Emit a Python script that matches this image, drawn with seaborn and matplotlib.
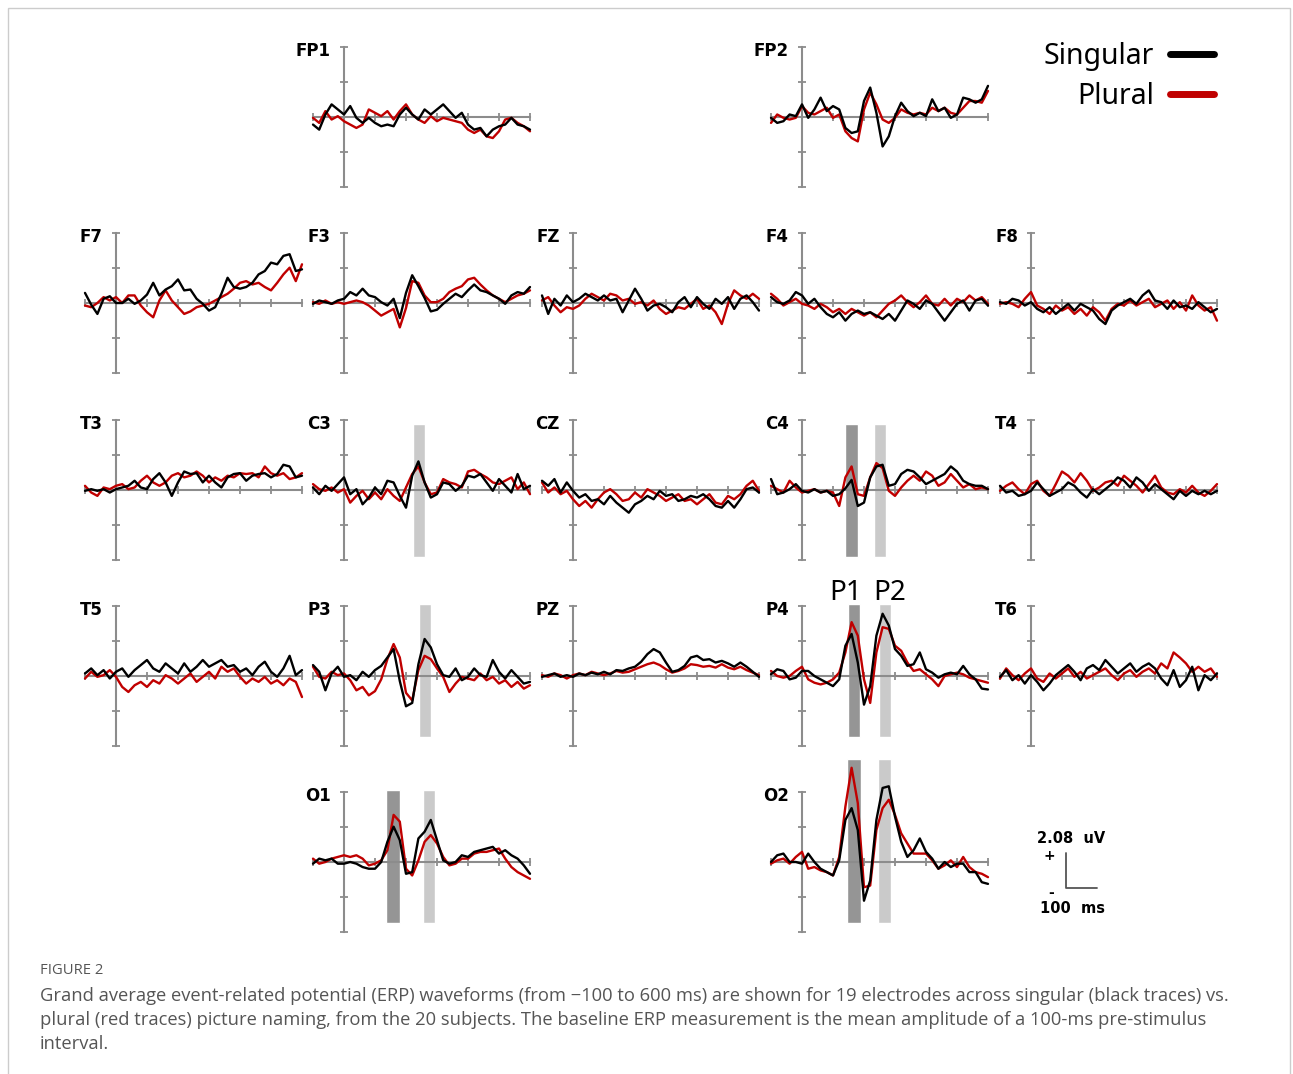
import matplotlib
matplotlib.use('Agg')
import matplotlib.pyplot as plt
import pandas as pd
import seaborn as sns
from matplotlib.patches import Rectangle

# time axis (ms) and amplitudes (uV), 20 ms steps
TIMES = list(range(-100, 601, 20))

FP1_SING = [-0.45,-0.75,0.15,0.75,0.45,0.15,0.65,-0.05,-0.35,-0.05,-0.35,-0.55,-0.45,-0.55,0.15,0.55,0.15,-0.15,0.45,0.15,0.45,0.75,0.35,-0.05,0.25,-0.45,-0.75,-0.65,-1.15,-0.75,-0.55,-0.45,-0.05,-0.45,-0.55,-0.75]
FP1_PLUR = [-0.05,-0.35,0.35,-0.15,0.05,-0.25,-0.45,-0.65,-0.45,0.45,0.25,0.05,0.35,-0.15,0.35,0.75,0.15,-0.15,-0.35,0.05,-0.25,-0.05,-0.15,-0.25,-0.35,-0.75,-0.95,-0.75,-1.15,-1.25,-0.85,-0.15,-0.05,-0.35,-0.55,-0.85]
FP2_SING = [-0.05,-0.35,-0.25,0.15,0.05,0.75,-0.05,0.45,1.15,0.35,0.65,0.45,-0.65,-0.95,-0.85,0.95,1.75,0.25,-1.75,-1.15,0.05,0.85,0.35,0.05,0.25,0.05,1.05,0.35,0.55,-0.05,0.15,1.15,1.05,0.85,1.05,1.85]
FP2_PLUR = [-0.35,0.15,-0.05,-0.15,-0.05,0.65,0.25,0.15,0.35,0.55,-0.05,0.15,-0.85,-1.25,-1.45,0.45,1.45,0.75,-0.15,-0.35,-0.05,0.45,0.25,0.15,0.25,0.15,0.55,0.35,0.55,0.25,0.15,0.55,0.95,0.95,0.85,1.55]

F7_SING = [0.6,-0.1,-0.65,0.25,0.4,0.0,0.0,0.25,-0.05,0.15,0.5,1.2,0.45,0.8,1.0,1.4,0.75,0.8,0.25,-0.05,-0.45,-0.25,0.55,1.5,0.95,0.85,0.95,1.2,1.7,1.9,2.4,2.3,2.8,2.9,1.9,2.0]
F7_PLUR = [-0.15,-0.25,0.0,0.35,0.15,0.35,0.0,0.45,0.45,-0.15,-0.55,-0.85,0.15,0.75,0.15,-0.25,-0.65,-0.5,-0.25,-0.15,-0.05,0.15,0.35,0.55,0.85,1.2,1.3,1.1,1.2,0.95,0.75,1.2,1.7,2.1,1.3,2.3]
F3_SING = [-0.05,0.15,0.05,-0.05,0.15,0.25,0.65,0.45,0.85,0.45,0.35,0.05,-0.15,0.25,-0.9,0.6,1.65,1.0,0.3,-0.5,-0.4,-0.05,0.25,0.55,0.35,0.75,1.1,0.75,0.65,0.45,0.25,-0.05,0.45,0.65,0.55,0.95]
F3_PLUR = [0.05,-0.05,0.15,-0.05,0.05,-0.05,0.05,0.15,0.05,-0.15,-0.45,-0.75,-0.55,-0.35,-1.45,-0.3,1.3,1.2,0.45,0.05,0.05,0.25,0.65,0.85,1.0,1.4,1.5,1.1,0.75,0.45,0.25,0.05,0.25,0.45,0.55,0.75]
FZ_SING = [0.45,-0.65,0.25,-0.15,0.45,0.05,0.25,0.55,0.35,0.15,0.45,0.15,0.25,-0.55,0.15,0.85,0.25,-0.45,-0.15,-0.05,-0.25,-0.55,0.05,0.35,-0.25,0.35,-0.05,-0.35,0.25,-0.05,0.35,-0.35,0.25,0.45,0.05,-0.45]
FZ_PLUR = [0.15,0.35,-0.15,-0.55,-0.25,-0.35,-0.15,0.25,0.55,0.35,0.15,0.55,0.45,0.15,0.25,-0.05,0.05,-0.15,0.15,-0.35,-0.65,-0.45,-0.25,-0.35,-0.05,0.25,-0.35,-0.15,-0.55,-1.25,-0.05,0.75,0.45,0.25,0.55,0.25]
F4_SING = [0.35,0.05,-0.05,0.15,0.65,0.45,-0.05,0.25,-0.25,-0.65,-0.85,-0.55,-1.05,-0.65,-0.45,-0.65,-0.55,-0.75,-0.95,-0.65,-1.05,-0.45,0.15,-0.05,-0.35,0.15,-0.05,-0.55,-1.05,-0.55,-0.05,0.15,-0.45,0.15,0.25,-0.15]
F4_PLUR = [0.55,0.25,-0.15,0.05,0.25,-0.05,-0.15,-0.35,-0.05,-0.25,-0.55,-0.35,-0.65,-0.35,-0.55,-0.75,-0.55,-0.85,-0.45,-0.05,0.15,0.45,0.05,-0.25,0.05,0.45,-0.05,-0.15,0.25,-0.15,0.25,0.05,0.45,0.15,0.35,-0.05]
F8_SING = [0.05,-0.05,0.25,0.15,-0.15,0.05,-0.35,-0.55,-0.25,-0.65,-0.35,-0.05,-0.45,-0.05,-0.25,-0.45,-0.95,-1.25,-0.45,-0.15,0.05,0.25,-0.05,0.45,0.75,0.15,0.05,-0.35,0.15,-0.25,-0.15,-0.35,0.05,-0.25,-0.55,-0.35]
F8_PLUR = [-0.05,0.05,-0.05,-0.25,0.25,0.65,-0.15,-0.35,-0.65,-0.15,-0.45,-0.25,-0.65,-0.35,-0.75,-0.25,-0.55,-1.05,-0.35,-0.05,-0.15,0.15,-0.15,0.05,0.25,-0.25,-0.05,0.15,-0.35,0.05,-0.45,0.45,-0.15,-0.45,-0.25,-1.05]

T3_SING = [-0.05,0.05,-0.05,0.05,-0.15,0.05,0.15,0.25,0.55,0.15,0.05,0.65,1.0,0.45,-0.35,0.45,1.1,0.95,1.0,0.45,0.85,0.45,0.15,0.75,0.95,1.0,0.55,0.85,0.95,1.0,0.75,0.95,1.5,1.4,0.75,0.85]
T3_PLUR = [0.25,-0.15,-0.35,0.15,0.05,0.25,0.35,0.05,0.15,0.55,0.85,0.45,0.25,0.45,0.85,1.0,0.75,0.85,1.1,0.85,0.45,0.75,0.55,0.85,0.75,1.0,0.95,1.0,0.75,1.4,1.0,0.85,1.0,0.65,0.75,1.0]
C3_SING = [0.15,-0.25,0.25,-0.05,0.35,0.75,-0.25,0.05,-0.85,-0.45,0.15,-0.25,0.55,0.45,-0.35,-1.05,0.85,1.7,0.45,-0.45,-0.25,0.45,0.35,-0.05,0.25,0.85,0.75,0.95,0.45,-0.05,0.65,0.25,-0.15,0.95,0.05,0.25]
C3_PLUR = [0.35,0.05,-0.05,0.15,-0.15,0.05,-0.75,-0.35,-0.05,-0.55,-0.15,-0.55,0.05,-0.35,-0.65,0.15,0.95,1.4,0.45,-0.25,-0.15,0.65,0.45,0.35,0.15,1.1,1.2,0.95,0.75,0.45,0.35,0.55,0.75,0.05,0.45,-0.25]
CZ_SING = [0.55,0.25,0.65,-0.15,0.45,-0.05,-0.45,-0.25,-0.65,-0.55,-0.85,-0.35,-0.75,-1.05,-1.35,-0.85,-0.65,-0.35,-0.55,-0.05,-0.35,-0.25,-0.65,-0.55,-0.35,-0.45,-0.25,-0.55,-0.95,-1.05,-0.65,-1.05,-0.55,0.05,0.15,-0.15]
CZ_PLUR = [0.45,-0.15,0.15,-0.25,-0.05,-0.55,-0.95,-0.65,-1.05,-0.55,-0.15,0.05,-0.25,-0.65,-0.55,-0.15,-0.45,0.05,-0.15,-0.35,-0.65,-0.45,-0.25,-0.65,-0.55,-0.85,-0.55,-0.25,-0.75,-0.85,-0.35,-0.55,-0.25,0.25,0.55,-0.05]
C4_SING = [0.65,-0.25,-0.15,0.05,0.35,-0.05,-0.15,0.05,-0.15,-0.05,-0.35,-0.25,0.1,0.6,-0.95,-0.75,0.75,1.4,1.5,0.25,0.35,0.95,1.2,1.1,0.75,0.35,0.55,0.75,0.95,1.4,1.1,0.55,0.35,0.25,0.25,0.05]
C4_PLUR = [0.25,0.05,-0.15,0.55,0.15,-0.15,-0.05,0.05,-0.15,-0.05,-0.15,-0.95,0.75,1.4,-0.25,-0.35,0.75,1.6,1.3,-0.05,-0.35,0.15,0.55,0.85,0.55,1.1,0.85,0.25,0.45,0.95,0.55,0.15,0.35,0.05,0.15,0.05]
T4_SING = [0.25,-0.15,-0.05,-0.35,-0.25,-0.05,0.45,0.05,-0.35,-0.15,0.05,0.45,0.25,-0.15,-0.45,0.05,-0.25,0.05,0.35,0.75,0.55,0.15,0.75,0.45,-0.05,0.35,0.05,-0.25,-0.55,-0.05,-0.35,-0.05,-0.25,-0.05,-0.25,-0.05]
T4_PLUR = [-0.05,0.25,0.45,0.05,-0.25,0.35,0.55,-0.05,-0.35,0.35,1.1,0.85,0.45,1.0,0.55,-0.05,0.15,0.45,0.55,0.25,0.85,0.55,0.25,-0.15,0.35,0.85,0.15,-0.15,-0.25,0.05,-0.15,0.25,-0.15,-0.35,-0.05,0.35]

T5_SING = [0.15,0.45,0.05,0.35,-0.15,0.25,0.45,-0.05,0.35,0.65,0.95,0.45,0.25,0.75,0.45,0.15,0.75,0.25,0.55,0.95,0.55,0.75,0.95,0.55,0.65,0.25,0.45,0.05,0.55,0.85,0.25,-0.05,0.45,1.2,0.05,0.35]
T5_PLUR = [-0.15,0.25,-0.05,0.05,0.35,-0.05,-0.65,-0.95,-0.55,-0.35,-0.65,-0.25,-0.45,0.05,-0.15,-0.45,-0.15,0.15,-0.35,-0.05,0.25,-0.15,0.55,0.25,0.45,-0.05,-0.45,-0.15,-0.35,-0.05,-0.45,-0.25,-0.55,-0.15,-0.35,-1.25]
P3_SING = [0.65,0.25,-0.85,0.15,0.55,-0.05,0.05,-0.25,0.25,-0.05,0.35,0.6,1.1,1.6,-0.3,-1.8,-1.6,0.7,2.2,1.7,0.7,0.05,-0.05,0.45,-0.25,-0.05,0.45,0.05,-0.05,0.95,0.25,-0.15,0.35,-0.05,-0.45,-0.35]
P3_PLUR = [0.55,-0.05,-0.15,0.25,0.05,0.15,-0.25,-0.85,-0.65,-1.15,-0.9,-0.2,1.0,1.9,1.1,-1.0,-1.45,0.35,1.2,1.0,0.45,-0.05,-0.95,-0.45,-0.05,-0.15,-0.25,0.15,-0.25,-0.05,-0.45,-0.25,-0.65,-0.35,-0.75,-0.55]
PZ_SING = [-0.05,0.05,0.15,-0.05,0.05,-0.05,0.15,0.05,0.2,0.1,0.25,0.1,0.35,0.3,0.45,0.55,0.85,1.3,1.6,1.4,0.8,0.25,0.35,0.6,1.1,1.2,0.95,1.0,0.8,0.9,0.75,0.55,0.8,0.55,0.25,-0.05]
PZ_PLUR = [0.05,-0.05,0.15,0.05,-0.15,0.05,0.15,0.05,0.25,0.15,0.05,0.15,0.3,0.2,0.25,0.4,0.55,0.7,0.8,0.65,0.4,0.2,0.3,0.45,0.7,0.65,0.55,0.6,0.5,0.7,0.5,0.4,0.55,0.35,0.2,0.05]
P4_SING = [0.1,0.4,0.3,-0.2,-0.1,0.3,0.3,0.0,-0.2,-0.4,-0.6,-0.2,1.8,2.5,0.8,-1.7,-0.6,2.4,3.7,3.0,1.6,1.2,0.6,0.7,1.4,0.4,0.2,-0.1,0.1,0.2,0.1,0.6,0.1,-0.2,-0.75,-0.8]
P4_PLUR = [0.3,0.0,-0.1,0.0,0.3,0.55,-0.2,-0.4,-0.5,-0.4,-0.2,0.2,1.4,3.2,2.4,-0.2,-1.6,1.4,2.9,2.8,1.8,1.5,0.8,0.3,0.4,0.1,-0.2,-0.6,0.0,0.1,0.2,0.1,-0.1,-0.2,-0.3,-0.4]
T6_SING = [-0.05,0.35,-0.25,0.05,-0.45,0.05,-0.35,-0.85,-0.45,0.05,0.35,0.65,0.25,-0.25,0.45,0.65,0.35,0.95,0.55,0.15,0.45,0.75,0.25,0.55,0.75,0.45,-0.15,-0.55,0.35,-0.65,-0.25,0.55,-0.85,0.05,-0.25,0.15]
T6_PLUR = [-0.15,0.45,0.05,-0.25,0.15,0.45,-0.15,-0.35,0.15,-0.15,0.15,0.45,-0.05,0.25,-0.15,0.05,0.25,0.45,0.05,-0.25,0.15,0.35,-0.05,0.25,0.45,0.15,0.75,0.45,1.4,1.1,0.75,0.25,0.55,0.25,0.45,-0.05]

O1_SING = [-0.1,0.2,0.1,0.2,-0.1,-0.1,0.0,-0.1,-0.3,-0.4,-0.4,0.0,1.2,2.1,1.3,-0.7,-0.6,1.4,1.8,2.5,1.3,0.1,-0.1,0.0,0.4,0.3,0.6,0.7,0.8,0.9,0.5,0.7,0.4,0.2,-0.2,-0.7]
O1_PLUR = [0.2,-0.1,0.0,0.2,0.3,0.4,0.3,0.4,0.2,-0.2,-0.1,0.1,0.7,2.8,2.4,-0.4,-0.8,0.1,1.2,1.6,1.1,0.3,-0.2,-0.1,0.2,0.2,0.5,0.6,0.6,0.7,0.8,0.2,-0.3,-0.6,-0.8,-1.0]
O2_SING = [0.0,0.4,0.5,0.0,0.0,-0.1,0.5,0.0,-0.4,-0.6,-0.8,0.1,2.5,3.2,1.9,-2.3,-1.1,2.5,4.4,4.5,2.7,1.2,0.3,0.7,1.4,0.6,0.2,-0.4,0.0,-0.3,-0.1,-0.1,-0.6,-0.6,-1.2,-1.3]
O2_PLUR = [-0.1,0.1,0.2,-0.1,0.3,0.6,-0.4,-0.3,-0.5,-0.6,-0.8,0.3,3.3,5.6,3.5,-1.5,-1.4,1.9,3.2,3.7,2.8,1.7,1.1,0.5,0.5,0.5,0.1,-0.4,-0.2,0.1,-0.3,0.3,-0.3,-0.6,-0.7,-0.9]

# electrode -> (row, col, singular, plural)
PANELS = {
    'FP1': (0, 1, FP1_SING, FP1_PLUR), 'FP2': (0, 3, FP2_SING, FP2_PLUR),
    'F7': (1, 0, F7_SING, F7_PLUR), 'F3': (1, 1, F3_SING, F3_PLUR), 'FZ': (1, 2, FZ_SING, FZ_PLUR),
    'F4': (1, 3, F4_SING, F4_PLUR), 'F8': (1, 4, F8_SING, F8_PLUR),
    'T3': (2, 0, T3_SING, T3_PLUR), 'C3': (2, 1, C3_SING, C3_PLUR), 'CZ': (2, 2, CZ_SING, CZ_PLUR),
    'C4': (2, 3, C4_SING, C4_PLUR), 'T4': (2, 4, T4_SING, T4_PLUR),
    'T5': (3, 0, T5_SING, T5_PLUR), 'P3': (3, 1, P3_SING, P3_PLUR), 'PZ': (3, 2, PZ_SING, PZ_PLUR),
    'P4': (3, 3, P4_SING, P4_PLUR), 'T6': (3, 4, T6_SING, T6_PLUR),
    'O1': (4, 1, O1_SING, O1_PLUR), 'O2': (4, 3, O2_SING, O2_PLUR),
}

# shaded P1 / P2 windows (ms) and their vertical extent (uV)
P1_WIN = {'C4': (140, 180), 'P4': (148, 187), 'O1': (135, 180), 'O2': (146, 189)}
P2_WIN = {'C3': (222, 261), 'C4': (232, 271), 'P3': (242, 280), 'P4': (248, 287),
          'O1': (255, 294), 'O2': (245, 287)}
BAR_SPAN = {'C3': (-4.0, 3.9), 'C4': (-4.0, 3.9), 'P3': (-3.6, 4.3), 'P4': (-3.6, 4.3),
            'O1': (-3.6, 4.3), 'O2': (-3.6, 6.1)}

SCALE_UV = 2.08
SCALE_MS = 100

RED = '#c00000'
BLACK = '#000000'
AXCOL = '#8c8c8c'

# layout in pixels
W, H = 1293, 1074
COL_X0 = [85, 313, 542, 771, 1000]
ROW_ZERO = [117, 303, 490, 676, 862]
PANEL_PX = 217
HALF_PX = 74
UV_PER_PX = SCALE_UV / 35.0
YLIM = HALF_PX * UV_PER_PX

sns.set_style('white')
plt.rcParams['font.family'] = ['DejaVu Sans']
plt.rcParams['text.color'] = 'black'

fig = plt.figure(figsize=(W / 100, H / 100), dpi=100)


def box(left, top, w, h):
    return [left / W, 1 - (top + h) / H, w / W, h / H]


def style_axes(ax):
    ax.set_xlim(-100, 600)
    ax.set_ylim(-YLIM, YLIM)
    ax.patch.set_visible(False)
    for s in ['top', 'right']:
        ax.spines[s].set_visible(False)
    ax.spines['left'].set_position(('data', 0))
    ax.spines['bottom'].set_position(('data', 0))
    ax.spines['left'].set_bounds(-2 * SCALE_UV, 2 * SCALE_UV)
    ax.spines['bottom'].set_bounds(-100, 600)
    for s in ['left', 'bottom']:
        ax.spines[s].set_color(AXCOL)
        ax.spines[s].set_linewidth(1.5)
        ax.spines[s].set_zorder(1)
    ax.set_xticks(range(-100, 601, 100))
    ax.set_yticks([-2 * SCALE_UV, -SCALE_UV, 0, SCALE_UV, 2 * SCALE_UV])
    ax.tick_params(bottom=True, left=True, direction='inout', length=6, width=1.3,
                   colors=AXCOL, labelbottom=False, labelleft=False)
    ax.set_xlabel('')
    ax.set_ylabel('')


axes = {}
for name, (r, c, sing, plur) in PANELS.items():
    ax = fig.add_axes(box(COL_X0[c], ROW_ZERO[r] - HALF_PX, PANEL_PX, 2 * HALF_PX))
    axes[name] = ax
    lo, hi = BAR_SPAN.get(name, (0, 0))
    if name in P1_WIN:
        a, b = P1_WIN[name]
        ax.bar((a + b) / 2, hi - lo, bottom=lo, width=b - a, color='#959595',
               zorder=0.5, clip_on=False)
    if name in P2_WIN:
        a, b = P2_WIN[name]
        ax.bar((a + b) / 2, hi - lo, bottom=lo, width=b - a, color='#cacaca',
               zorder=0.5, clip_on=False)
    df = pd.DataFrame({'time': TIMES * 2, 'uv': plur + sing,
                       'cond': ['Plural'] * len(TIMES) + ['Singular'] * len(TIMES)})
    sns.lineplot(data=df, x='time', y='uv', hue='cond', hue_order=['Plural', 'Singular'],
                 palette={'Plural': RED, 'Singular': BLACK}, estimator=None,
                 lw=1.7, legend=False, ax=ax)
    for ln in ax.lines:
        ln.set_clip_on(False)
        ln.set_zorder(2)
    style_axes(ax)
    ax.text(-42, 4.46, name, ha='right', va='top', fontsize=12, fontweight='heavy',
            color='black')

# P1 / P2 labels above P4
axes['P4'].text(142, 4.5, 'P1', ha='center', va='baseline', fontsize=20, family='Noto Sans')
axes['P4'].text(284, 4.5, 'P2', ha='center', va='baseline', fontsize=20, family='Noto Sans')

# scale bar
sax = fig.add_axes(box(COL_X0[4], ROW_ZERO[4] - HALF_PX, PANEL_PX, 2 * HALF_PX))
sax.set_xlim(-100, 600)
sax.set_ylim(-YLIM, YLIM)
sax.axis('off')
x0, y0 = 113, -1.54
sax.plot([x0, x0, x0 + SCALE_MS], [y0 + SCALE_UV, y0, y0], color='#555555', lw=1.3)
sax.text(x0 + 16, y0 + SCALE_UV + 0.85, '2.08  uV', ha='center', va='center',
         fontsize=10.5, fontweight='bold')
sax.text(x0 - 55, y0 + SCALE_UV - 0.2, '+', ha='center', va='center',
         fontsize=10, fontweight='bold')
sax.text(x0 - 48, y0 - 0.3, '-', ha='center', va='center', fontsize=10, fontweight='bold')
sax.text(x0 + 20, y0 - 1.25, '100  ms', ha='center', va='center',
         fontsize=10.5, fontweight='bold')

# legend
h_plur, h_sing = axes['FP1'].lines[0], axes['FP1'].lines[1]
leg = fig.legend(handles=[h_sing, h_plur], labels=['Singular', 'Plural'],
                 loc='upper right', bbox_to_anchor=(1228 / W, 1 - 28 / H),
                 frameon=False, markerfirst=False, borderpad=0,
                 handlelength=1.55, handletextpad=0.55, labelspacing=0.38,
                 prop={'family': 'Noto Sans', 'size': 20.5})
for ln in leg.get_lines():
    ln.set_linewidth(5)
    ln.set_solid_capstyle('round')

# caption
CAP_FONT = ['Open Sans', 'DejaVu Sans']
fig.text(40 / W, 1 - 970 / H, 'FIGURE 2', ha='left', va='center', fontsize=10.6,
         color='#555555', family=CAP_FONT)
CAPTION = [
    'Grand average event-related potential (ERP) waveforms (from \u2212100 to 600 ms) are shown for 19 electrodes across singular (black traces) vs.',
    'plural (red traces) picture naming, from the 20 subjects. The baseline ERP measurement is the mean amplitude of a 100-ms pre-stimulus',
    'interval.',
]
for i, line in enumerate(CAPTION):
    fig.text(40 / W, 1 - (996 + 24 * i) / H, line, ha='left', va='center',
             fontsize=13.2, color='#555555', family=CAP_FONT)

# light frame around the figure
fig.patches.append(Rectangle((8 / W, -0.02), 1282 / W, 1 - 8 / H + 0.02,
                             transform=fig.transFigure, fill=False,
                             edgecolor='#cccccc', lw=1))

fig.savefig('out.png', dpi=100)
